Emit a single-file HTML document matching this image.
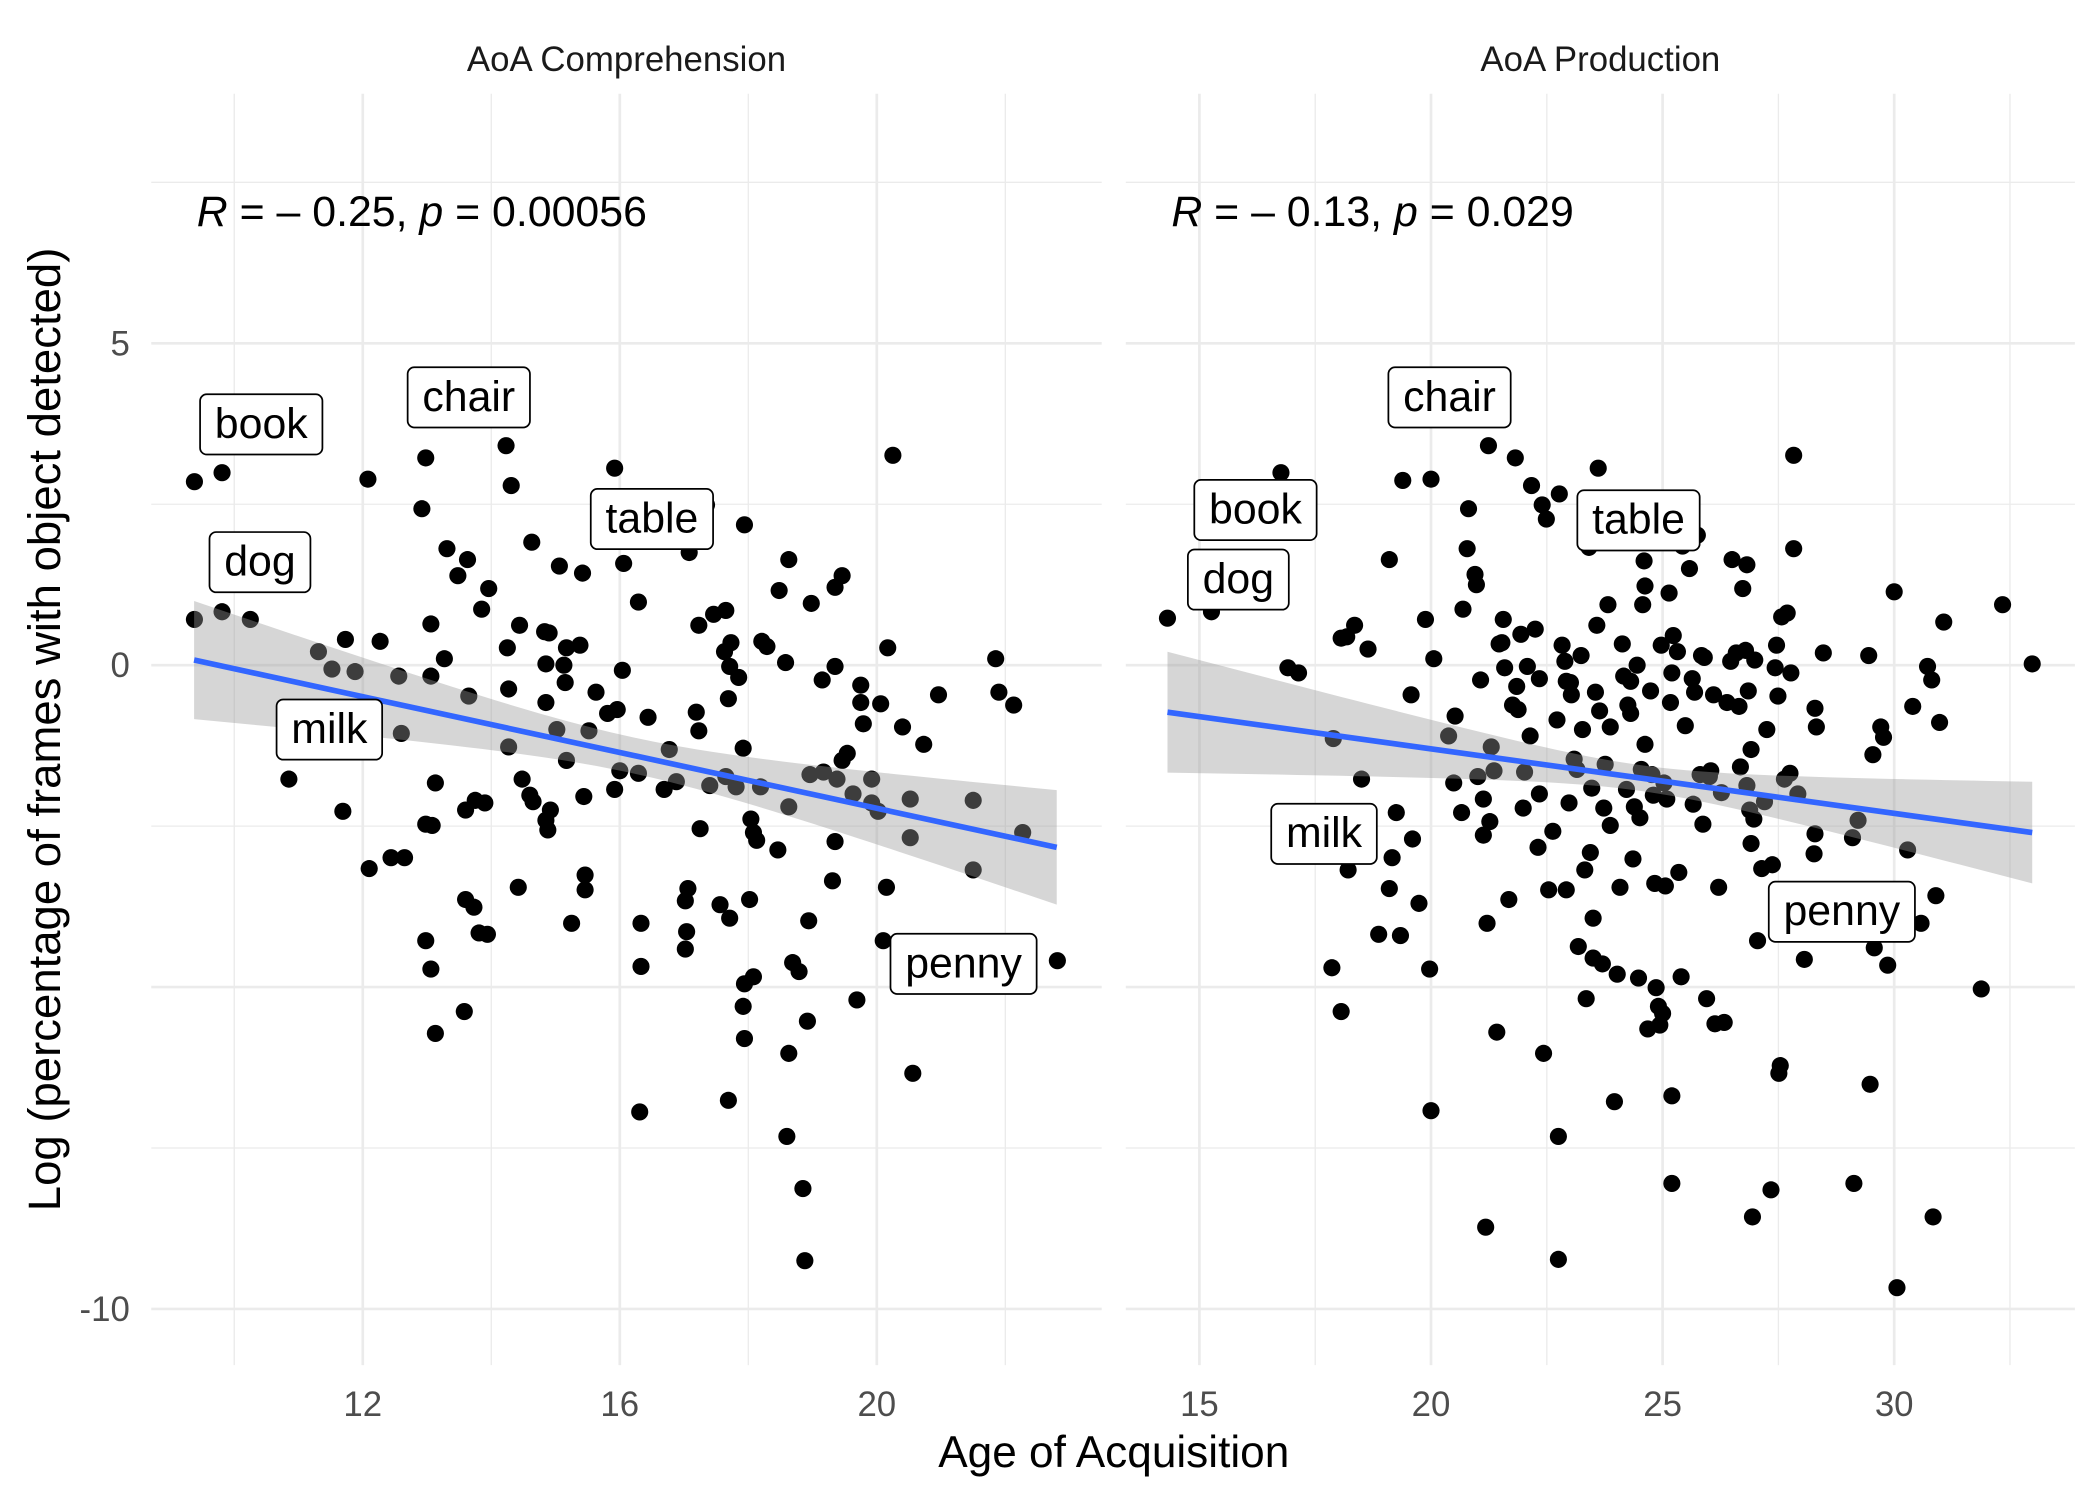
<!DOCTYPE html>
<html><head><meta charset="utf-8">
<style>
html,body{margin:0;padding:0;background:#fff;}
svg{display:block;font-family:"Liberation Sans",Arial,sans-serif;}
</style></head>
<body>
<svg id="chart" width="2099" height="1499" viewBox="0 0 1568 1120" preserveAspectRatio="none" xmlns="http://www.w3.org/2000/svg">
<rect width="1568" height="1120" fill="#fff"/>
<g id="panels"></g>
<text x="832" y="1096" font-size="33" text-anchor="middle" fill="#000">Age of Acquisition</text>
<text transform="translate(45,545) rotate(-90)" font-size="34" text-anchor="middle" fill="#000">Log (percentage of frames with object detected)</text>
</svg>
<script>
const compX = [9.38,9.38,9.81,9.81,10.25,11.31,11.52,11.73,11.88,12.08,12.27,10.85,11.69,12.10,12.44,12.65,12.56,12.60,12.98,12.92,13.06,13.27,13.06,13.31,13.48,13.63,13.65,13.85,13.96,13.13,12.98,13.08,12.98,13.06,13.13,13.60,13.75,13.90,13.60,13.73,13.81,13.94,13.58,14.23,14.31,14.25,14.27,14.27,14.44,14.42,14.48,14.60,14.63,14.65,14.85,14.83,14.85,14.85,14.88,14.92,14.90,15.06,15.13,15.15,15.17,15.02,15.17,15.25,15.42,15.38,15.44,15.46,15.46,15.52,15.63,15.81,15.92,15.92,16.00,16.06,16.04,15.96,16.29,16.29,16.33,16.33,16.31,16.44,16.60,16.69,16.77,16.88,17.02,17.06,17.04,17.02,17.08,17.19,17.23,17.23,17.25,17.35,17.40,17.46,17.56,17.63,17.65,17.65,17.71,17.73,17.69,17.71,17.69,17.81,17.85,17.92,17.94,17.92,17.94,17.94,18.02,18.04,18.08,18.13,18.08,18.19,18.21,18.29,18.46,18.48,18.58,18.63,18.63,18.63,18.60,18.69,18.79,18.85,18.88,18.92,18.94,18.96,18.98,19.15,19.17,19.31,19.35,19.35,19.35,19.38,19.46,19.46,19.54,19.63,19.69,19.75,19.75,19.79,19.92,19.92,20.02,20.06,20.17,20.15,20.25,20.40,20.52,20.52,20.56,20.73,20.96,21.50,21.85,21.90,22.13,22.27,21.50,22.81,20.10];
const compY = [0.71,2.85,2.99,0.83,0.71,0.21,-0.06,0.40,-0.10,2.89,0.37,-1.77,-2.27,-3.16,-2.99,-2.99,-0.17,-1.06,3.22,2.43,0.64,0.10,-0.17,1.81,1.39,1.64,-0.48,0.87,1.19,-1.83,-2.47,-2.49,-4.28,-4.72,-5.72,-2.25,-2.10,-2.14,-3.64,-3.76,-4.16,-4.18,-5.38,3.41,2.79,0.27,-0.37,-1.27,0.62,-3.45,-1.77,-2.02,1.91,-2.12,-0.58,0.52,0.02,-2.41,-2.56,-2.25,0.50,1.54,0.00,-0.27,0.27,-1.00,-1.48,-4.01,1.43,0.31,-2.04,-3.26,-3.49,-1.02,-0.42,-0.75,3.06,-1.93,-1.64,1.58,-0.08,-0.69,0.98,-1.68,-4.01,-4.68,-6.94,-0.81,2.60,-1.93,-1.31,-1.81,-3.66,-3.47,-4.14,-4.41,1.75,-0.73,-1.02,0.62,-2.54,2.49,-1.87,0.79,-3.72,0.21,0.85,-1.73,-0.02,0.35,-0.52,-3.93,-6.76,-1.89,-0.19,-1.29,-4.95,-5.30,-5.80,2.18,-3.64,-2.39,-2.60,-2.72,-4.84,-1.89,0.37,0.29,-2.87,1.16,0.04,1.64,-2.20,-6.03,-7.32,-4.62,-4.76,-8.13,-9.25,-5.53,-3.97,-1.70,0.96,-0.23,-1.66,-3.35,-2.74,-0.02,1.21,-1.77,1.39,-1.48,-1.37,-2.00,-5.20,-0.31,-0.58,-0.91,-1.77,-2.14,-2.27,-0.60,0.27,-3.45,3.26,-0.96,-2.08,-2.68,-6.34,-1.23,-0.46,-2.10,0.10,-0.42,-0.62,-2.60,-3.18,-4.59,-4.28];
const prodX = [14.31,15.26,16.76,16.91,17.14,17.89,18.06,18.18,18.35,18.64,18.50,18.21,17.86,18.06,19.10,19.39,19.57,20.00,19.88,20.06,19.25,19.16,19.10,18.87,19.34,19.60,19.74,19.97,20.00,20.38,20.49,20.52,20.66,20.69,20.78,20.81,20.95,20.98,21.07,21.01,21.13,21.13,21.21,21.27,21.30,21.36,21.24,21.47,21.53,21.56,21.59,21.42,21.18,21.68,21.82,21.85,21.76,21.94,21.99,22.02,21.88,22.08,22.14,22.17,22.25,22.31,22.34,22.34,22.40,22.43,22.49,22.54,22.63,22.72,22.75,22.75,22.77,22.83,22.89,22.92,22.92,22.98,23.01,23.09,23.03,23.15,23.18,23.24,23.27,23.32,23.35,23.41,23.44,23.47,23.50,23.50,23.55,23.58,23.61,23.64,23.70,23.73,23.76,23.82,23.87,23.87,23.96,24.02,24.08,24.13,24.16,24.22,24.25,24.31,24.31,24.36,24.39,24.45,24.48,24.51,24.54,24.57,24.60,24.62,24.62,24.68,24.74,24.77,24.80,24.83,24.86,24.91,24.94,24.97,25.00,25.03,25.06,25.09,25.14,25.17,25.20,25.20,25.20,25.23,25.32,25.35,25.40,25.43,25.49,25.52,25.58,25.64,25.66,25.69,25.75,25.81,25.84,25.87,25.90,25.95,26.01,26.04,26.10,26.13,26.21,26.27,26.33,26.39,26.47,26.50,26.59,26.65,26.68,26.73,26.79,26.82,26.82,26.85,26.88,26.91,26.91,26.94,26.97,26.99,27.05,27.14,27.20,27.25,27.34,27.37,27.43,27.46,27.49,27.51,27.54,27.57,27.63,27.69,27.75,27.77,27.83,27.83,27.92,28.06,28.29,28.32,28.29,28.27,28.47,29.10,29.22,29.45,29.48,29.51,29.54,29.57,29.62,29.71,29.77,29.86,30.00,30.06,30.29,30.40,30.58,30.72,30.81,30.84,30.90,30.98,31.07,31.88,32.34,32.98,29.13];
const prodY = [0.73,0.83,2.99,-0.04,-0.12,-1.14,0.42,0.44,0.62,0.25,-1.77,-3.18,-4.70,-5.38,1.64,2.87,-0.46,2.89,0.71,0.10,-2.29,-2.99,-3.47,-4.18,-4.20,-2.70,-3.70,-4.72,-6.92,-1.10,-1.83,-0.79,-2.29,0.87,1.81,2.43,1.41,1.25,-0.23,-1.73,-2.08,-2.64,-4.01,-2.43,-1.27,-1.64,3.41,0.33,0.35,0.71,-0.04,-5.70,-8.73,-3.64,3.22,-0.33,-0.62,0.48,-2.22,-1.66,-0.69,-0.02,-1.10,2.79,0.56,-2.83,-2.00,-0.21,2.49,-6.03,2.27,-3.49,-2.58,-0.85,-9.23,-7.32,2.66,0.31,0.06,-0.25,-3.49,-2.14,-0.27,-1.46,-0.46,-1.62,-4.37,0.15,-1.00,-3.18,-5.18,1.83,-2.91,-1.91,-3.93,-4.55,-0.42,0.62,3.06,-0.71,-4.64,-2.22,-1.54,0.94,-0.96,-2.49,-6.78,-4.80,-3.45,0.33,-0.17,-1.93,-0.62,-0.25,-0.75,-3.01,-2.20,0.00,-4.86,-2.37,-1.62,0.94,1.62,1.23,-1.23,-5.65,-0.40,-1.70,-2.02,-3.39,-5.01,-5.30,-5.59,0.31,-5.41,-1.83,-3.43,-2.08,1.12,-0.58,-0.12,-6.69,-8.05,0.46,0.21,-3.22,-4.84,1.85,-0.94,2.10,1.50,-0.21,-2.16,-0.42,2.02,-1.70,0.15,-2.47,0.12,-5.18,-1.73,-1.64,-0.46,-5.57,-3.45,-1.98,-5.55,-0.58,0.06,1.64,0.19,-0.64,-1.58,1.19,0.23,1.56,-1.87,-0.40,-2.25,-1.31,-2.77,-8.57,-2.39,0.08,-4.28,-3.16,-2.12,-1.00,-8.15,-3.10,-0.04,0.31,-0.48,-6.34,-6.22,0.75,-1.77,0.81,-1.68,-0.12,3.26,1.81,-2.00,-4.57,-0.67,-0.96,-2.62,-2.93,0.19,-2.68,-2.41,0.15,-6.51,-4.18,-1.39,-4.39,-3.53,-0.96,-1.12,-4.66,1.14,-9.67,-2.87,-0.64,-4.01,-0.02,-0.23,-8.57,-3.58,-0.89,0.67,-5.03,0.94,0.02,-8.05];

const compLabelWords = ["book","chair","table","dog","milk","penny"];
const compLabelX = [10.42,13.65,16.50,10.40,11.48,21.35];
const compLabelY = [3.74,4.16,2.27,1.60,-1.00,-4.64];
const prodLabelWords = ["chair","book","table","dog","milk","penny"];
const prodLabelX = [20.40,16.21,24.48,15.84,17.69,28.87];
const prodLabelY = [4.16,2.41,2.25,1.33,-2.62,-3.83];

const compFit = [9.375,22.8,0.08,-2.83];
const prodFit = [14.31,32.98,-0.73,-2.60];
const compSE = [16.2,0.28,0.128];
const prodSE = [24.5,0.20,0.09];

const compTicks = [12,16,20];
const prodTicks = [15,20,25,30];
const yTicks = [5,0,-10];
const yTickLabels = ["5","0","-10"];
const yMinor = [7.5,2.5,-2.5,-7.5,-5];

const NS = "http://www.w3.org/2000/svg";
const yScale = v => 497 - v * 48.1;
const PT = 70, PB = 1020;

function mk(tag, attrs, parent){
  const e = document.createElementNS(NS, tag);
  for (const k in attrs) e.setAttribute(k, attrs[k]);
  parent.appendChild(e);
  return e;
}

function drawPanel(o){
  const root = document.getElementById('panels');
  const g = mk('g', {}, root);
  
  
  const xs = v => o.px0 + (v - o.v0) * o.k;
  const st = mk('text', {x:(o.left+o.right)/2, y:53, 'font-size':26, 'text-anchor':'middle', fill:'#1a1a1a'}, g);
  st.textContent = o.title;
  
  
  for (const m of o.minor){
    const x = xs(m);
    const l = mk('line', {x1:x, x2:x, y1:PT, y2:PB, stroke:'#ebebeb', 'stroke-width':1}, g);
    
    
  }
  for (const m of yMinor){
    const y = yScale(m);
    const w = (m === -5) ? 2 : 1;
    const l = mk('line', {x1:o.left, x2:o.right, y1:y, y2:y, stroke:'#ebebeb', 'stroke-width':w}, g);
    
    
  }
  for (const t of yTicks){
    const y = yScale(t);
    const l = mk('line', {x1:o.left, x2:o.right, y1:y, y2:y, stroke:'#ebebeb', 'stroke-width':2}, g);
    
    
  }
  for (const t of o.ticks){
    const x = xs(t);
    const l = mk('line', {x1:x, x2:x, y1:PT, y2:PB, stroke:'#ebebeb', 'stroke-width':2}, g);
    
    
    const tl = mk('text', {x:x, y:1058, 'font-size':26, 'text-anchor':'middle', fill:'#4d4d4d'}, g);
    tl.textContent = String(t);
    
    
  }
  for (let i = 0; i < o.xs.length; i++){
    const c = mk('circle', {cx:xs(o.xs[i]), cy:yScale(o.ys[i]), r:6.4, fill:'#000'}, g);
    
    
  }
  const [x0,x1,y0,y1] = o.fit;
  const slope = (y1 - y0) / (x1 - x0);
  const fy = v => y0 + slope * (v - x0);
  const hw = v => Math.sqrt(o.se[1]*o.se[1] + Math.pow(o.se[2]*(v - o.se[0]), 2));
  const N = 60; let up = [], dn = [];
  for (let i = 0; i <= N; i++){
    const v = x0 + (x1 - x0) * i / N;
    up.push(xs(v) + ',' + yScale(fy(v) + hw(v)));
    dn.unshift(xs(v) + ',' + yScale(fy(v) - hw(v)));
  }
  const rib = mk('polygon', {points: up.concat(dn).join(' '), fill:'#999999', 'fill-opacity':0.4}, g);
  
  
  const ln = mk('line', {x1:xs(x0), y1:yScale(y0), x2:xs(x1), y2:yScale(y1), stroke:'#3366FF', 'stroke-width':4.2}, g);
  
  
  for (let i = 0; i < o.lw.length; i++){
    const lg = mk('g', {}, g);
    
    
    const cx = xs(o.lx[i]), cy = yScale(o.ly[i]);
    const r = mk('rect', {x:0, y:cy-22.5, width:10, height:45, rx:5, fill:'#fff', stroke:'#000', 'stroke-width':1.3}, lg);
    const t = mk('text', {x:cx, y:cy+10, 'font-size':32, 'text-anchor':'middle', fill:'#000'}, lg);
    t.textContent = o.lw[i];
    const w = t.getComputedTextLength() + 22;
    r.setAttribute('x', cx - w/2);
    r.setAttribute('width', w);
  }
  const an = mk('text', {x:o.left+34, y:169, 'font-size':32, fill:'#000'}, g);
  
  
  an.innerHTML = o.ann;
}

drawPanel({name:'comprehension', title:'AoA Comprehension', left:113, right:823, px0:271, v0:12, k:48,
  ticks:compTicks, minor:[10,14,18,22], xs:compX, ys:compY, fit:compFit, se:compSE,
  lw:compLabelWords, lx:compLabelX, ly:compLabelY,
  ann:'<tspan font-style="italic">R</tspan> = – 0.25, <tspan font-style="italic">p</tspan> = 0.00056'});
drawPanel({name:'production', title:'AoA Production', left:841, right:1550, px0:1069, v0:20, k:34.6,
  ticks:prodTicks, minor:[17.5,22.5,27.5,32.5], xs:prodX, ys:prodY, fit:prodFit, se:prodSE,
  lw:prodLabelWords, lx:prodLabelX, ly:prodLabelY,
  ann:'<tspan font-style="italic">R</tspan> = – 0.13, <tspan font-style="italic">p</tspan> = 0.029'});

const svg = document.getElementById('chart');
for (let i = 0; i < yTicks.length; i++){
  const t = document.createElementNS(NS, 'text');
  t.setAttribute('x', 97); t.setAttribute('y', yScale(yTicks[i]) + 9);
  t.setAttribute('font-size', 26); t.setAttribute('text-anchor', 'end'); t.setAttribute('fill', '#4d4d4d');
  t.textContent = yTickLabels[i];
  
  
  svg.appendChild(t);
}
</script>
</body></html>
